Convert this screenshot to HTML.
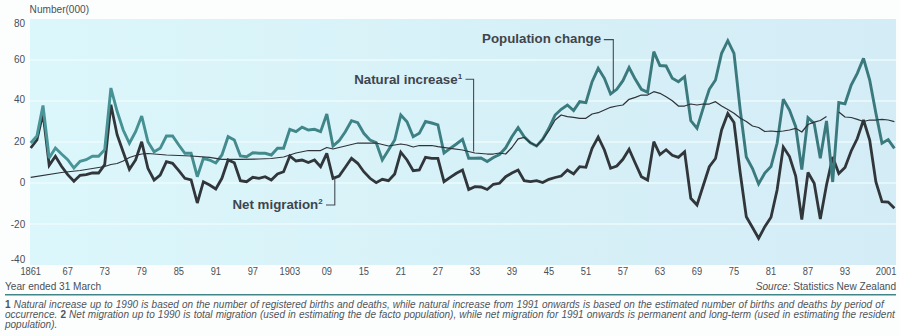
<!DOCTYPE html>
<html><head><meta charset="utf-8">
<style>
html,body{margin:0;padding:0;background:#fcfefe;}
body{width:900px;height:336px;overflow:hidden;position:relative;font-family:"Liberation Sans",sans-serif;}
svg{position:absolute;left:0;top:0;}
.fn{position:absolute;left:5px;top:299.6px;width:895px;font-size:10px;line-height:10px;color:#4e545b;word-spacing:0.37px;font-style:italic;white-space:nowrap;}
.fn b{font-style:normal;font-weight:bold;}
</style></head><body>
<svg width="900" height="336" viewBox="0 0 900 336">
<defs><linearGradient id="bg" x1="0" x2="1" y1="0" y2="0">
<stop offset="0" stop-color="#dcf7fb"/><stop offset="0.5" stop-color="#d7f1f8"/><stop offset="1" stop-color="#d4ecf6"/></linearGradient>
<linearGradient id="tl" gradientUnits="userSpaceOnUse" x1="30" x2="896" y1="0" y2="0"><stop offset="0" stop-color="#4a9799"/><stop offset="0.35" stop-color="#3f8588"/><stop offset="0.55" stop-color="#3a7b7e"/><stop offset="1" stop-color="#3a797d"/></linearGradient></defs>
<rect x="30" y="19" width="866" height="246" fill="url(#bg)"/>
<g stroke="#ecfbfd" stroke-width="1.4"><line x1="30" x2="896" y1="60.0" y2="60.0"/><line x1="30" x2="896" y1="101.0" y2="101.0"/><line x1="30" x2="896" y1="142.0" y2="142.0"/><line x1="30" x2="896" y1="183.0" y2="183.0"/><line x1="30" x2="896" y1="224.0" y2="224.0"/></g>
<g font-family="Liberation Sans" font-size="9.4" fill="#4a4f57">
<text x="29.6" y="12.6" font-size="10.1">Number(000)</text>
<text x="25.2" y="26.6" text-anchor="end" font-size="10">80</text><text x="25.2" y="62.7" text-anchor="end" font-size="10">60</text><text x="25.2" y="103.3" text-anchor="end" font-size="10">40</text><text x="25.2" y="144.7" text-anchor="end" font-size="10">20</text><text x="25.2" y="185.5" text-anchor="end" font-size="10">0</text><text x="25.2" y="227.6" text-anchor="end" font-size="10">-20</text><text x="25.2" y="262.9" text-anchor="end" font-size="10">-40</text>
<text transform="translate(30.7,274.8) scale(0.93,1)" text-anchor="middle" font-size="10.0">1861</text><text transform="translate(67.7,274.8) scale(0.93,1)" text-anchor="middle" font-size="10.0">67</text><text transform="translate(104.7,274.8) scale(0.93,1)" text-anchor="middle" font-size="10.0">73</text><text transform="translate(141.7,274.8) scale(0.93,1)" text-anchor="middle" font-size="10.0">79</text><text transform="translate(178.8,274.8) scale(0.93,1)" text-anchor="middle" font-size="10.0">85</text><text transform="translate(215.8,274.8) scale(0.93,1)" text-anchor="middle" font-size="10.0">91</text><text transform="translate(252.8,274.8) scale(0.93,1)" text-anchor="middle" font-size="10.0">97</text><text transform="translate(289.8,274.8) scale(0.93,1)" text-anchor="middle" font-size="10.0">1903</text><text transform="translate(326.8,274.8) scale(0.93,1)" text-anchor="middle" font-size="10.0">09</text><text transform="translate(363.8,274.8) scale(0.93,1)" text-anchor="middle" font-size="10.0">15</text><text transform="translate(400.8,274.8) scale(0.93,1)" text-anchor="middle" font-size="10.0">21</text><text transform="translate(437.9,274.8) scale(0.93,1)" text-anchor="middle" font-size="10.0">27</text><text transform="translate(474.9,274.8) scale(0.93,1)" text-anchor="middle" font-size="10.0">33</text><text transform="translate(511.9,274.8) scale(0.93,1)" text-anchor="middle" font-size="10.0">39</text><text transform="translate(548.9,274.8) scale(0.93,1)" text-anchor="middle" font-size="10.0">45</text><text transform="translate(585.9,274.8) scale(0.93,1)" text-anchor="middle" font-size="10.0">51</text><text transform="translate(622.9,274.8) scale(0.93,1)" text-anchor="middle" font-size="10.0">57</text><text transform="translate(659.9,274.8) scale(0.93,1)" text-anchor="middle" font-size="10.0">63</text><text transform="translate(697.0,274.8) scale(0.93,1)" text-anchor="middle" font-size="10.0">69</text><text transform="translate(734.0,274.8) scale(0.93,1)" text-anchor="middle" font-size="10.0">75</text><text transform="translate(771.0,274.8) scale(0.93,1)" text-anchor="middle" font-size="10.0">81</text><text transform="translate(808.0,274.8) scale(0.93,1)" text-anchor="middle" font-size="10.0">87</text><text transform="translate(845.0,274.8) scale(0.93,1)" text-anchor="middle" font-size="10.0">93</text><text transform="translate(896.4,274.8) scale(0.93,1)" text-anchor="end" font-size="10.0">2001</text>
<text x="5" y="290.3" font-size="10.1">Year ended 31 March</text>
<text x="896" y="290.3" text-anchor="end" font-size="10.1"><tspan font-style="italic">Source:</tspan> Statistics New Zealand</text>
</g>
<line x1="5" x2="896" y1="294.8" y2="294.8" stroke="#428589" stroke-width="1.5"/>
<polyline points="30.7,148.0 36.9,140.0 43.0,113.0 49.2,165.3 55.4,156.3 61.5,166.3 67.7,174.7 73.9,181.3 80.1,175.3 86.2,174.7 92.4,173.0 98.6,173.0 104.7,164.7 110.9,104.7 117.1,134.7 123.2,152.0 129.4,169.3 135.6,160.0 141.7,141.7 147.9,168.3 154.1,180.0 160.2,175.0 166.4,161.7 172.6,163.3 178.8,170.7 184.9,178.3 191.1,180.0 197.3,203.0 203.4,181.7 209.6,185.0 215.8,189.0 221.9,178.3 228.1,160.0 234.3,162.7 240.4,180.7 246.6,181.7 252.8,177.3 259.0,178.3 265.1,176.7 271.3,180.0 277.5,174.0 283.6,171.7 289.8,156.0 296.0,161.0 302.1,160.0 308.3,162.5 314.5,160.0 320.6,166.7 326.8,153.3 333.0,178.3 339.1,176.0 345.3,167.3 351.5,158.3 357.7,163.3 363.8,171.7 370.0,178.3 376.2,182.7 382.3,179.3 388.5,180.7 394.7,174.0 400.8,152.2 407.0,160.0 413.2,170.7 419.3,170.0 425.5,157.3 431.7,158.3 437.9,158.3 444.0,181.7 450.2,177.3 456.4,173.3 462.5,170.0 468.7,189.5 474.9,186.7 481.0,187.0 487.2,189.5 493.4,184.3 499.5,183.3 505.7,176.7 511.9,173.0 518.1,170.0 524.2,180.7 530.4,181.7 536.6,180.7 542.7,182.5 548.9,179.3 555.1,177.5 561.2,176.0 567.4,170.0 573.6,174.0 579.7,166.7 585.9,167.3 592.1,148.3 598.2,137.0 604.4,150.0 610.6,168.3 616.8,166.0 622.9,159.3 629.1,149.3 635.3,163.3 641.4,176.7 647.6,180.0 653.8,141.7 659.9,154.5 666.1,149.7 672.3,155.3 678.4,157.3 684.6,151.7 690.8,198.3 697.0,205.0 703.1,186.0 709.3,166.7 715.5,158.5 721.6,130.0 727.8,113.5 734.0,122.5 740.1,172.0 746.3,216.7 752.5,227.5 758.6,238.3 764.8,226.7 771.0,217.3 777.1,190.0 783.3,147.0 789.5,156.5 795.7,176.0 801.8,219.5 808.0,172.5 814.2,183.3 820.3,219.0 826.5,185.0 832.7,157.0 838.8,173.5 845.0,167.5 851.2,151.0 857.3,138.5 863.5,120.0 869.7,140.0 875.9,182.0 882.0,201.7 888.2,202.0 894.4,208.3" fill="none" stroke="#30363a" stroke-width="2.8" stroke-linejoin="miter" stroke-miterlimit="3"/>
<polyline points="30.7,143.0 36.9,136.0 43.0,105.5 49.2,158.0 55.4,148.0 61.5,154.0 67.7,159.7 73.9,168.0 80.1,161.3 86.2,159.7 92.4,156.3 98.6,156.3 104.7,149.7 110.9,88.0 117.1,111.3 123.2,130.0 129.4,143.3 135.6,131.7 141.7,116.0 147.9,141.7 154.1,151.7 160.2,148.3 166.4,136.0 172.6,136.0 178.8,145.0 184.9,153.3 191.1,153.3 197.3,176.7 203.4,158.3 209.6,160.0 215.8,163.0 221.9,155.0 228.1,136.7 234.3,140.0 240.4,156.0 246.6,156.7 252.8,152.7 259.0,153.3 265.1,153.3 271.3,155.0 277.5,148.3 283.6,148.3 289.8,129.3 296.0,131.7 302.1,127.2 308.3,130.0 314.5,129.3 320.6,131.7 326.8,114.0 333.0,146.0 339.1,140.7 345.3,131.7 351.5,120.7 357.7,122.7 363.8,133.3 370.0,140.0 376.2,142.7 382.3,160.0 388.5,150.0 394.7,140.0 400.8,115.0 407.0,121.7 413.2,136.7 419.3,133.3 425.5,121.5 431.7,123.0 437.9,124.8 444.0,153.0 450.2,148.3 456.4,144.0 462.5,139.3 468.7,158.3 474.9,158.3 481.0,158.0 487.2,161.5 493.4,157.5 499.5,154.5 505.7,147.8 511.9,136.7 518.1,127.5 524.2,136.7 530.4,142.7 536.6,146.0 542.7,139.3 548.9,128.3 555.1,115.0 561.2,109.3 567.4,105.0 573.6,110.5 579.7,101.7 585.9,102.7 592.1,81.7 598.2,68.3 604.4,78.3 610.6,94.0 616.8,89.3 622.9,80.7 629.1,67.5 635.3,79.3 641.4,89.3 647.6,92.3 653.8,51.7 659.9,65.5 666.1,66.0 672.3,78.3 678.4,81.7 684.6,76.7 690.8,120.7 697.0,128.3 703.1,108.3 709.3,89.3 715.5,80.0 721.6,53.3 727.8,40.7 734.0,53.3 740.1,109.0 746.3,157.0 752.5,168.5 758.6,184.0 764.8,173.0 771.0,166.5 777.1,143.3 783.3,99.3 789.5,110.0 795.7,126.7 801.8,169.5 808.0,117.7 814.2,123.5 820.3,158.3 826.5,121.0 832.7,182.0 838.8,102.5 845.0,103.8 851.2,85.0 857.3,73.3 863.5,58.3 869.7,80.0 875.9,113.3 882.0,143.3 888.2,139.6 894.4,148.3" fill="none" stroke="url(#tl)" stroke-width="2.9" stroke-linejoin="miter" stroke-miterlimit="3"/>
<polyline points="30.7,177.3 61.5,172.5 80.1,170.5 98.6,167.5 104.7,166.5 110.9,164.5 117.1,163.5 123.2,161.0 129.4,157.5 135.6,155.5 141.7,154.0 147.9,153.5 166.4,155.0 191.1,156.0 209.6,157.3 221.9,159.3 240.4,159.3 259.0,159.0 271.3,158.5 283.6,157.0 296.0,153.0 308.3,150.5 320.6,150.5 326.8,147.5 333.0,149.0 339.1,147.5 345.3,146.0 357.7,143.0 376.2,143.0 388.5,146.0 394.7,145.0 400.8,144.0 407.0,145.0 413.2,147.0 419.3,145.5 431.7,145.5 437.9,146.7 450.2,148.3 462.5,150.0 474.9,153.0 487.2,154.0 493.4,154.0 499.5,153.0 505.7,154.0 511.9,147.5 518.1,138.8 524.2,137.3 530.4,142.7 536.6,146.0 542.7,139.3 548.9,130.7 555.1,120.0 561.2,115.0 567.4,116.7 573.6,117.3 579.7,118.3 585.9,118.3 592.1,114.0 598.2,112.7 604.4,110.0 610.6,107.3 616.8,106.0 622.9,105.0 629.1,99.3 635.3,97.3 641.4,95.0 647.6,95.0 653.8,91.7 659.9,93.3 666.1,96.7 672.3,100.7 678.4,106.0 684.6,106.0 690.8,104.0 697.0,105.0 703.1,104.0 709.3,104.0 715.5,101.7 721.6,106.0 727.8,109.5 734.0,113.3 740.1,118.0 746.3,121.5 752.5,126.0 758.6,127.5 764.8,131.5 771.0,131.0 777.1,131.7 783.3,131.0 789.5,130.0 795.7,128.3 801.8,132.0 808.0,124.5 814.2,122.2 820.3,120.5 826.5,116.5" fill="none" stroke="#2e3439" stroke-width="1.25" stroke-linejoin="round"/>
<polyline points="838.8,112.0 845.0,117.0 851.2,117.5 857.3,119.3 863.5,121.5 869.7,120.0 875.9,120.0 882.0,119.3 888.2,120.0 894.4,121.7" fill="none" stroke="#2e3439" stroke-width="1.25" stroke-linejoin="round"/>
<g fill="none" stroke="#434b51" stroke-width="1.1">
<polyline points="603.8,39.6 613.3,39.6 613.3,91"/>
<polyline points="465.5,79.2 473.6,79.2 473.6,151.5"/>
<polyline points="326,205 334.8,205 334.8,178"/>
</g>
<g font-family="Liberation Sans" font-weight="bold" font-size="13.3" fill="#3f454c">
<text x="482.1" y="43.3">Population change</text>
<text x="354.2" y="83.7">Natural increase<tspan font-size="8" dy="-5">1</tspan></text>
<text x="232.5" y="208.8">Net migration<tspan font-size="8" dy="-5">2</tspan></text>
</g>
</svg>
<div class="fn"><b>1</b> Natural increase up to 1990 is based on the number of registered births and deaths, while natural increase from 1991 onwards is based on the estimated number of births and deaths by period of<br>occurrence. <b>2</b> Net migration up to 1990 is total migration (used in estimating the de facto population), while net migration for 1991 onwards is permanent and long-term (used in estimating the resident<br>population).</div>
</body></html>
